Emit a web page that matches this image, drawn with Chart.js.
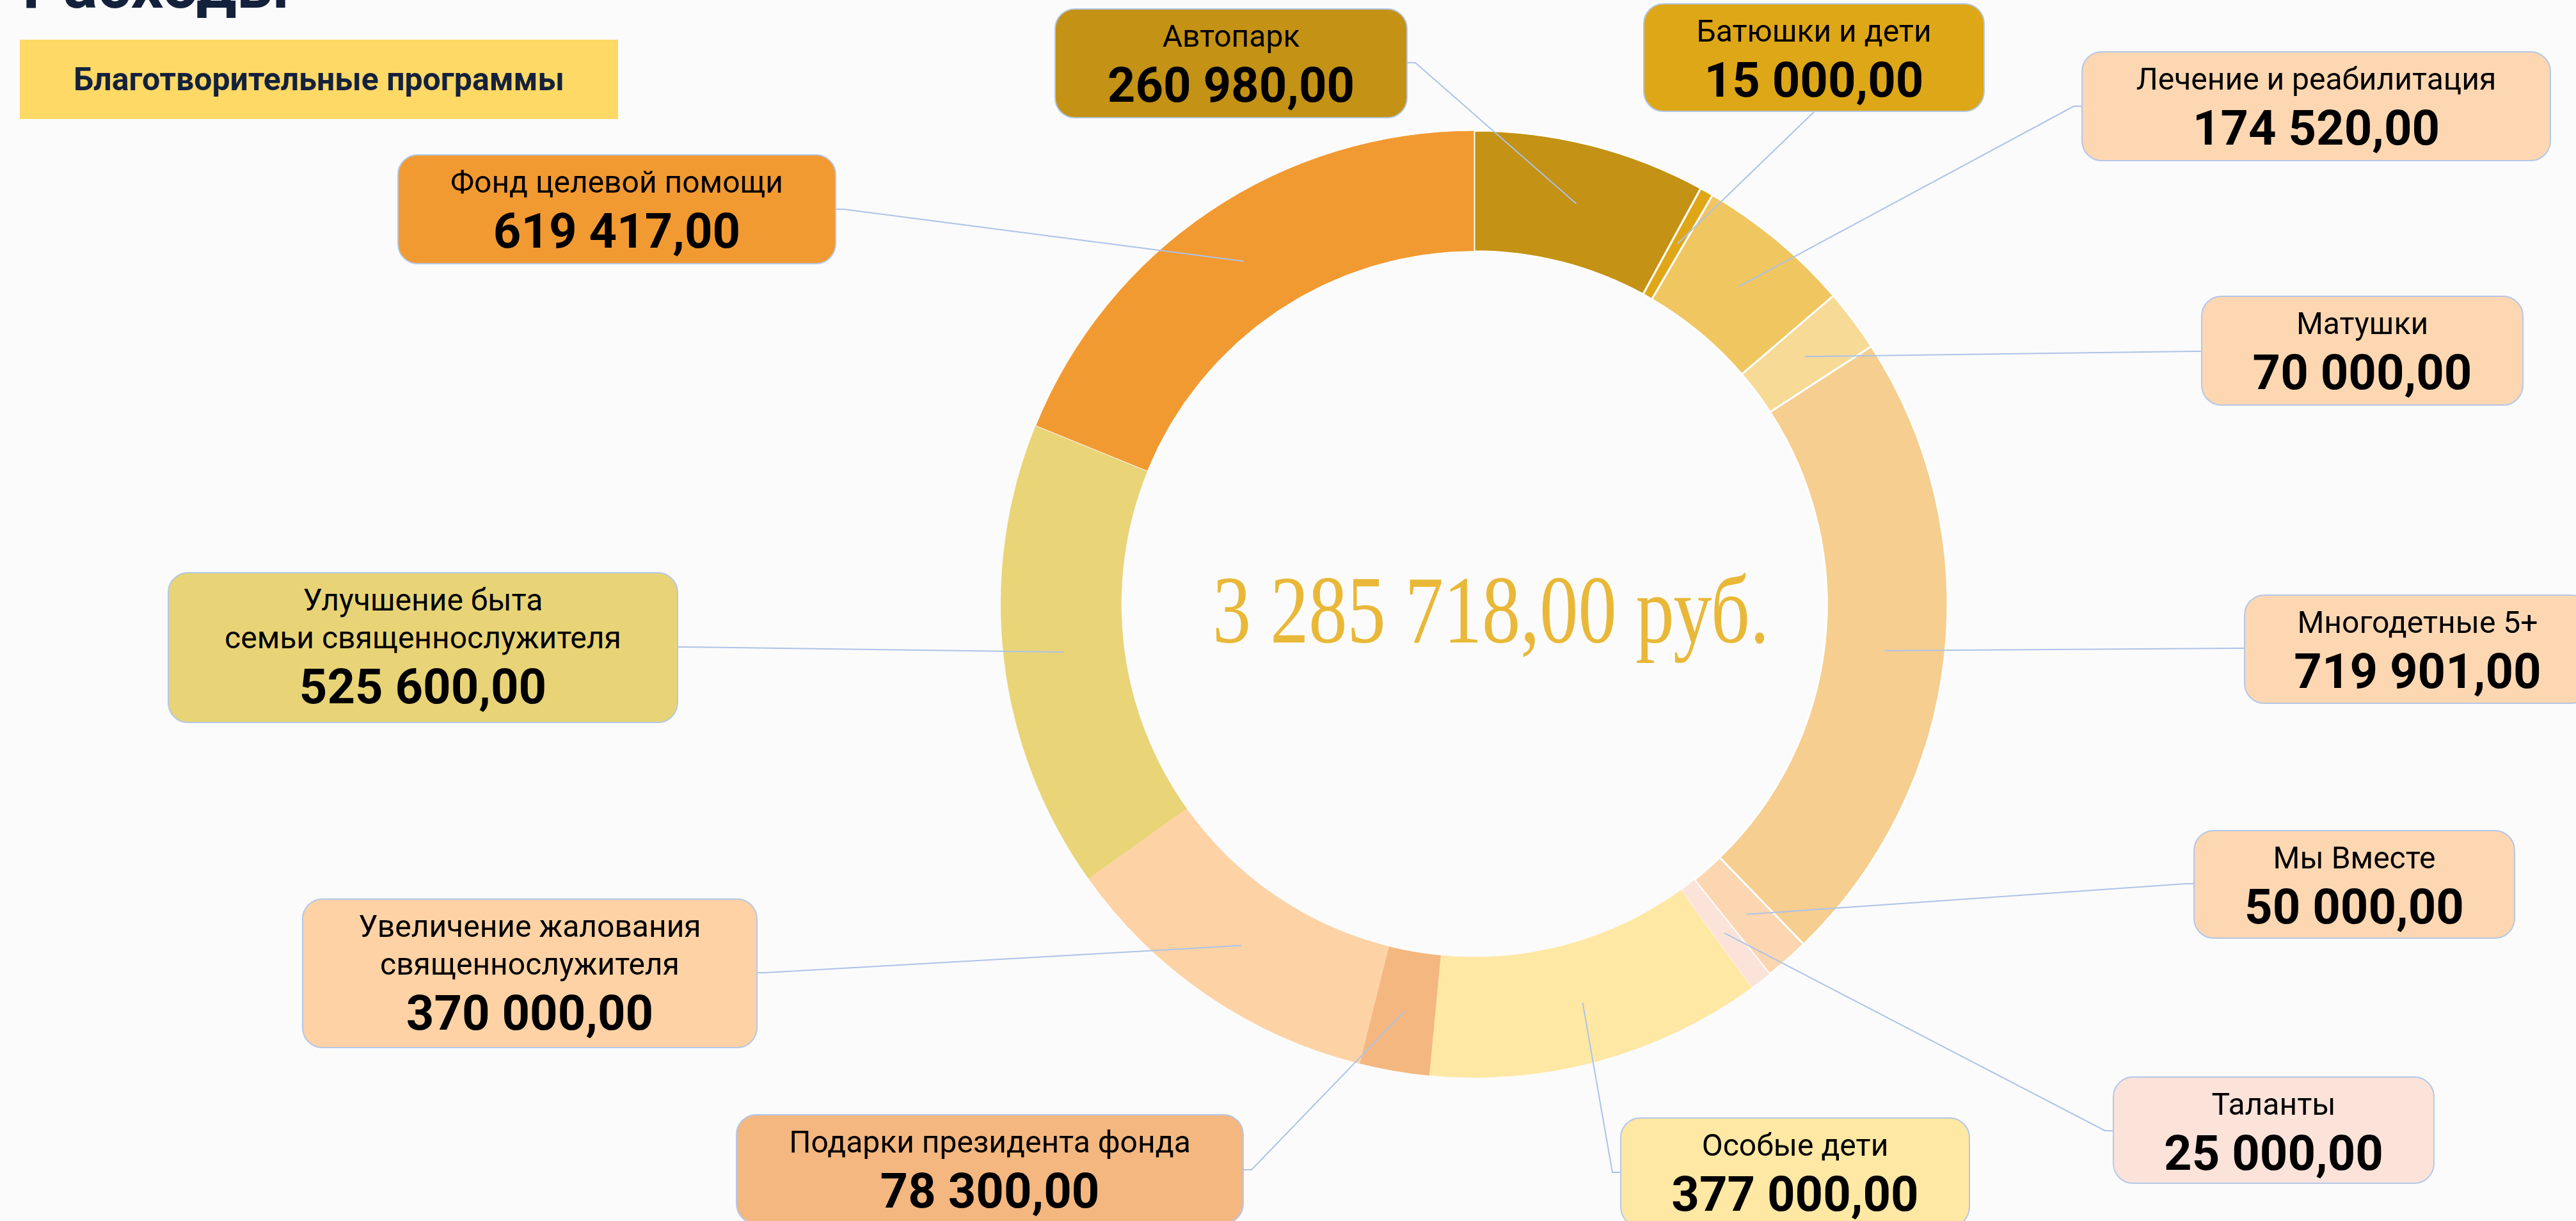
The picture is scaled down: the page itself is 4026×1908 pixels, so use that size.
<!DOCTYPE html>
<html lang="ru">
<head>
<meta charset="utf-8" />
<script src="https://cdn.jsdelivr.net/npm/chart.js@4.4.0/dist/chart.umd.min.js"></script>
<title>Расходы</title>
<style>
    html, body { margin: 0; padding: 0; width: 4026px; height: 1908px; overflow: hidden; background: #fbfbfb; font-family: Roboto, "Noto Sans", sans-serif; }
    #grafico { position: absolute; left: 0; top: 0; }
    .titulo { position: absolute; left: 35px; top: -72px; font: 700 100px/1 Roboto, sans-serif; color: #14213d; white-space: nowrap; }
    .insignia { position: absolute; left: 31px; top: 62px; width: 935px; height: 124px; background: #ffd966; color: #14213d;
        font: 700 50px Roboto, sans-serif; display: flex; align-items: center; justify-content: center; }
    .caja { position: absolute; box-sizing: border-box; border: 2px solid #b4c7e7; border-radius: 32px; text-align: center; color: #000; padding-top: 12px; white-space: nowrap; }
    .caja .nombre { font: 400 48px/59px Roboto, sans-serif; }
    .caja .valor { font: 700 76px/95px Roboto, sans-serif; }
</style>
</head>
<body>
<div class="titulo">Расходы</div>
<div class="insignia">Благотворительные программы</div>
<canvas id="grafico" width="4026" height="1908"></canvas>
<script>
// datos
const categorias = ["Автопарк", "Батюшки и дети", "Лечение и реабилитация", "Матушки", "Многодетные 5+", "Мы Вместе",
    "Таланты", "Особые дети", "Подарки президента фонда", "Увеличение жалования\nсвященнослужителя",
    "Улучшение быта\nсемьи священнослужителя", "Фонд целевой помощи"];
const importes = [260980, 15000, 174520, 70000, 719901, 50000, 25000, 377000, 78300, 370000, 525600, 619417];
const moneda = "руб.";

// estilos
const colores = ["#c49214", "#dfa718", "#f0c660", "#f6da96", "#f6ce90", "#fbd6b0", "#fce3da", "#ffe8a4", "#f4b780", "#fdd2a5", "#e9d477", "#f29a32"];
const coloresCaja = ["#c49214", "#dea717", "#fdd7b2", "#fdd7b2", "#fdd7b2", "#fdd7b2", "#fce3da", "#ffe8a4", "#f4b780", "#fed2a4", "#e8d477", "#f29a32"];
const bordes = [3, 3, 3, 3, 3, 3, 1, 0, 0, 0, 0, 1];

// posición de las cajas y punto donde llega la línea
const cajas = [
    {x: 1648, y: 13, w: 552, h: 172, ax: 2200, ay: 98, lado: "der"},
    {x: 2568, y: 5, w: 534, h: 170, ax: 2835, ay: 175, lado: "abajo"},
    {x: 3253, y: 80, w: 734, h: 172, ax: 3253, ay: 166, lado: "izq"},
    {x: 3440, y: 462, w: 504, h: 172, ax: 3440, ay: 549, lado: "izq"},
    {x: 3507, y: 929, w: 543, h: 171, ax: 3507, ay: 1013, lado: "izq"},
    {x: 3428, y: 1297, w: 503, h: 170, ax: 3428, ay: 1381, lado: "izq"},
    {x: 3302, y: 1682, w: 503, h: 168, ax: 3302, ay: 1767, lado: "izq"},
    {x: 2532, y: 1746, w: 547, h: 172, ax: 2532, ay: 1832, lado: "izq"},
    {x: 1150, y: 1741, w: 794, h: 172, ax: 1944, ay: 1828, lado: "der"},
    {x: 472, y: 1404, w: 712, h: 234, ax: 1184, ay: 1520, lado: "der"},
    {x: 262, y: 894, w: 798, h: 236, ax: 1060, ay: 1011, lado: "der"},
    {x: 621, y: 241, w: 686, h: 172, ax: 1307, ay: 327, lado: "der"}
];
const centroX = 2304, centroY = 944, radio = 740;

function formato(n) {
    const [e, d] = n.toFixed(2).split(".");
    return e.replace(/\B(?=(\d{3})+(?!\d))/g, " ") + "," + d;
}
const total = importes.reduce((a, b) => a + b, 0);

cajas.forEach((c, i) => {
    const div = document.createElement("div");
    div.className = "caja";
    div.style.left = c.x + "px";
    div.style.top = c.y + "px";
    div.style.width = c.w + "px";
    div.style.height = c.h + "px";
    div.style.background = coloresCaja[i];
    categorias[i].split("\n").forEach((l) => {
        const s = document.createElement("div");
        s.className = "nombre";
        s.textContent = l;
        div.appendChild(s);
    });
    const v = document.createElement("div");
    v.className = "valor";
    v.textContent = formato(importes[i]);
    div.appendChild(v);
    document.body.appendChild(div);
});

const lineas = {
    id: "lineas",
    afterDatasetsDraw(chart) {
        const ctx = chart.ctx;
        ctx.save();
        ctx.strokeStyle = "#adc3e8";
        ctx.lineWidth = 2;
        chart.getDatasetMeta(0).data.forEach((arco, i) => {
            const p = arco.getProps(["x", "y", "startAngle", "endAngle", "innerRadius", "outerRadius"]);
            const a = (p.startAngle + p.endAngle) / 2;
            const r = (p.innerRadius + p.outerRadius) / 2;
            const c = cajas[i];
            let ex = c.ax, ey = c.ay;
            if (c.lado === "izq") ex -= 12;
            if (c.lado === "der") ex += 12;
            ctx.beginPath();
            ctx.moveTo(p.x + Math.cos(a) * r, p.y + Math.sin(a) * r);
            ctx.lineTo(ex, ey);
            ctx.lineTo(c.ax, c.ay);
            ctx.stroke();
        });
        // texto central
        const m = chart.getDatasetMeta(0).data[0];
        const t = formato(total) + " " + moneda;
        ctx.font = '400 151px "Liberation Serif"';
        const w = ctx.measureText(t).width;
        ctx.translate(m.x + 26, m.y + 60);
        ctx.scale(870 / w, 1);
        ctx.textAlign = "center";
        ctx.textBaseline = "alphabetic";
        ctx.fillStyle = "#e9b838";
        ctx.fillText(t, 0, 0);
        ctx.restore();
    }
};

const lado = radio + 1.5;
new Chart(document.getElementById("grafico").getContext("2d"), {
    type: "doughnut",
    data: {
        labels: categorias.map((c) => c.replace("\n", " ")),
        datasets: [{data: importes, backgroundColor: colores, borderColor: "#ffffff", borderWidth: bordes, hoverOffset: 0}]
    },
    options: {
        responsive: false,
        devicePixelRatio: 1,
        animation: false,
        cutout: "74.5%",
        layout: {padding: {left: centroX - lado, right: 4026 - centroX - lado, top: centroY - lado, bottom: 1908 - centroY - lado}},
        plugins: {legend: {display: false}, tooltip: {enabled: false}}
    },
    plugins: [lineas]
});
</script>
</body>
</html>
